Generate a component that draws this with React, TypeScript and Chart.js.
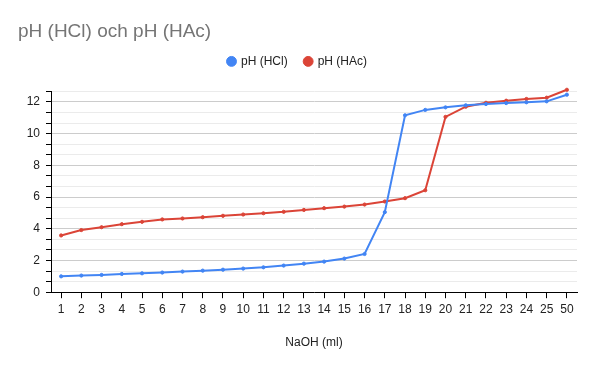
import React, { useEffect, useRef } from 'react';
import { Chart, registerables } from 'chart.js';

Chart.register(...registerables);

const categories = ['1', '2', '3', '4', '5', '6', '7', '8', '9', '10', '11', '12', '13', '14', '15', '16', '17', '18', '19', '20', '21', '22', '23', '24', '25', '50'];
const hclValues = [1.0, 1.05, 1.09, 1.15, 1.19, 1.24, 1.3, 1.36, 1.42, 1.49, 1.57, 1.68, 1.8, 1.93, 2.12, 2.41, 5.05, 11.16, 11.5, 11.66, 11.79, 11.87, 11.93, 11.98, 12.04, 12.46];
const hacValues = [3.58, 3.92, 4.1, 4.29, 4.44, 4.59, 4.65, 4.73, 4.82, 4.9, 4.98, 5.07, 5.19, 5.3, 5.4, 5.53, 5.72, 5.93, 6.43, 11.06, 11.7, 11.95, 12.08, 12.19, 12.27, 12.77];
const yMajorLabels = [0, 2, 4, 6, 8, 10, 12];
const yMinorStep = 2 / 3;
const yMax = 38 / 3;

const FONT = '"Liberation Sans", Arial, sans-serif';

function isMajor(v: number) {
  return yMajorLabels.some((m) => Math.abs(m - v) < 1e-6);
}

const legendSpacing = {
  id: 'legendSpacing',
  beforeInit(chart: any) {
    const legend = chart.legend;
    if (!legend) return;
    const origFit = legend.fit;
    legend.fit = function () {
      origFit.call(this);
      this.height += 14;
    };
  },
};

export default function App() {
  const ref = useRef<HTMLCanvasElement | null>(null);
  useEffect(() => {
    document.body.style.margin = '0';
    if (!ref.current) return;
    const chart = new Chart(ref.current, {
      type: 'line',
      data: {
        labels: categories,
        datasets: [
          {
            label: 'pH (HCl)',
            data: hclValues,
            borderColor: '#4285f4',
            backgroundColor: '#4285f4',
            borderWidth: 2,
            pointRadius: 1.6,
            pointBorderWidth: 1,
            pointStyle: 'circle',
            tension: 0,
            clip: false,
          },
          {
            label: 'pH (HAc)',
            data: hacValues,
            borderColor: '#db4437',
            backgroundColor: '#db4437',
            borderWidth: 2,
            pointRadius: 1.6,
            pointBorderWidth: 1,
            pointStyle: 'circle',
            tension: 0,
            clip: false,
          },
        ],
      },
      plugins: [legendSpacing],
      options: {
        animation: false,
        responsive: false,
        maintainAspectRatio: false,
        layout: { padding: { left: 18, right: 18, top: 14, bottom: 18 } },
        plugins: {
          title: {
            display: true,
            text: 'pH (HCl) och pH (HAc)',
            align: 'start',
            color: '#757575',
            font: { family: FONT, size: 19, weight: 'normal', lineHeight: 0.6 },
            padding: { top: 12, bottom: 1 },
          },
          legend: {
            display: true,
            position: 'top',
            labels: {
              usePointStyle: true,
              boxWidth: 7,
              boxHeight: 7,
              color: '#222222',
              font: { family: FONT, size: 12 },
              padding: 17,
            },
          },
          tooltip: { enabled: false },
        },
        scales: {
          x: {
            type: 'category',
            offset: true,
            grid: {
              offset: false,
              drawOnChartArea: false,
              drawTicks: true,
              tickLength: 6,
              tickColor: '#000000',
            },
            border: { color: '#000000', width: 1 },
            ticks: {
              color: '#222222',
              font: { family: FONT, size: 12 },
              padding: 4,
              autoSkip: false,
              maxRotation: 0,
            },
            title: {
              display: true,
              text: 'NaOH (ml)',
              color: '#222222',
              font: { family: FONT, size: 12 },
              padding: { top: 15, bottom: 0 },
            },
          },
          y: {
            type: 'linear',
            min: 0,
            max: yMax,
            afterBuildTicks: (scale: any) => {
              const ticks = [];
              for (let i = 0; i <= 19; i++) ticks.push({ value: i * yMinorStep });
              scale.ticks = ticks;
            },
            afterFit: (scale: any) => {
              scale.width = 33;
            },
            grid: {
              color: (ctx: any) => (isMajor(ctx.tick?.value ?? 0) ? '#cccccc' : '#ebebeb'),
              tickColor: '#000000',
              tickLength: 5,
            },
            border: { color: '#000000', width: 1 },
            ticks: {
              color: '#222222',
              font: { family: FONT, size: 12 },
              padding: 6,
              autoSkip: false,
              callback: (v: any) => (isMajor(Number(v)) ? String(Math.round(Number(v))) : ''),
            },
          },
        },
      },
    });
    return () => chart.destroy();
  }, []);
  return (
    <div style={{ width: 595, height: 368, background: '#ffffff' }}>
      <canvas ref={ref} width={595} height={368} style={{ width: 595, height: 368 }} />
    </div>
  );
}
